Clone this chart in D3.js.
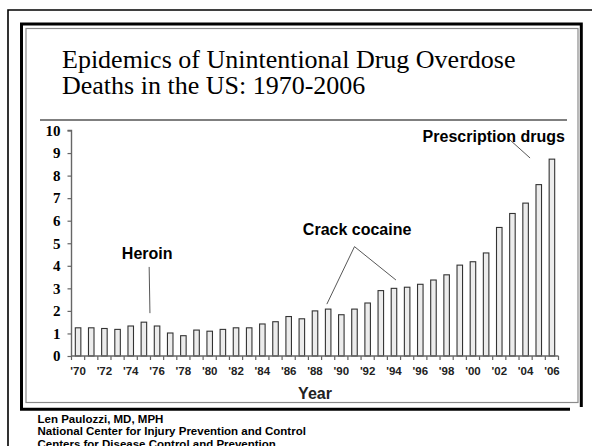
<!DOCTYPE html>
<html>
<head>
<meta charset="utf-8">
<script src="https://cdn.jsdelivr.net/npm/d3@7/dist/d3.min.js"></script>
<style>
  html, body { margin: 0; padding: 0; background: #fff; }
  svg { display: block; }
</style>
</head>
<body>
<svg id="chart" width="592" height="446"></svg>
<script>
// Unintentional drug overdose death rate per 100,000, US, 1970-2006
const years = d3.range(1970, 2007);
const rates = [
  1.25, 1.25, 1.22, 1.18, 1.33, 1.50, 1.33, 1.02, 0.90, 1.15,
  1.10, 1.18, 1.25, 1.25, 1.42, 1.52, 1.75, 1.65, 2.00, 2.08,
  1.83, 2.08, 2.35, 2.90, 3.00, 3.05, 3.18, 3.37, 3.60, 4.03,
  4.18, 4.57, 5.70, 6.32, 6.78, 7.60, 8.73
];
const yTicks = d3.range(0, 11);
const xTickYears = years.filter(y => y % 2 === 0);
const yearLabel = y => "'" + String(y % 100).padStart(2, "0");

// Callouts, placed in data space (fractional year, rate)
const callouts = [
  { text: "Heroin", at: [1975.25, 4.29],
    lines: [[[1975.46, 1.90], [1975.40, 3.95]]] },
  { text: "Crack cocaine", at: [1991.2, 5.37],
    lines: [[[1991.0, 4.85], [1988.9, 2.30]], [[1991.0, 4.85], [1994.15, 3.37]]] },
  { text: "Prescription drugs", at: [2001.58, 9.50],
    lines: [[[2002.74, 9.62], [2004.34, 8.78]]] }
];

const titleLines = ["Epidemics of Unintentional Drug Overdose", "Deaths in the US: 1970-2006"];
const footerLines = [
  "Len Paulozzi, MD, MPH",
  "National Center for Injury Prevention and Control",
  "Centers for Disease Control and Prevention"
];

const svg = d3.select("#chart");

// ---- slide frame ----
const frame = svg.append("g").attr("fill", "none");
frame.append("path").attr("d", "M8,446 V10 H592").attr("stroke", "#000").attr("stroke-width", 1.6);
frame.append("path").attr("d", "M21.5,409 V24 H581.3 V407").attr("stroke", "#000").attr("stroke-width", 3);
frame.append("path").attr("d", "M20,409.3 H570").attr("stroke", "#000").attr("stroke-width", 3);
frame.append("rect").attr("x", 26).attr("y", 28.5).attr("width", 552).attr("height", 374)
  .attr("stroke", "#8a8a8a").attr("stroke-width", 1.2);
frame.append("path").attr("d", "M40,120 H567").attr("stroke", "#555").attr("stroke-width", 1.4);

// ---- title ----
svg.append("g")
  .attr("font-family", "'Liberation Serif', 'Times New Roman', serif")
  .attr("font-size", 26)
  .attr("fill", "#000")
  .selectAll("text").data(titleLines).join("text")
  .attr("x", 62).attr("y", (d, i) => 68 + i * 26)
  .text(d => d);

// ---- scales ----
const x = d3.scaleBand().domain(years).range([71.5, 558.5]).padding(0);
const bw = x.bandwidth();
const y = d3.scaleLinear().domain([0, 10]).range([356, 130.5]);
const xf = v => x.range()[0] + (v - years[0] + 0.5) * bw;

// ---- bars ----
svg.append("g")
  .selectAll("rect").data(years).join("rect")
  .attr("x", d => x(d) + bw * 0.29)
  .attr("width", bw * 0.42)
  .attr("y", (d, i) => y(rates[i]))
  .attr("height", (d, i) => y(0) - y(rates[i]))
  .attr("fill", "#ececec")
  .attr("stroke", "#333")
  .attr("stroke-width", 1.1);

// ---- y axis ----
const yAxis = svg.append("g")
  .attr("transform", `translate(${x.range()[0]},0)`)
  .call(d3.axisLeft(y).tickValues(yTicks).tickSize(4).tickPadding(7).tickFormat(d3.format("d")));
yAxis.select(".domain").attr("stroke", "#666").attr("stroke-width", 1.4).attr("d", `M-4,${y(10)}H0V${y(0)}`);
yAxis.selectAll(".tick line").attr("stroke", "#666").attr("stroke-width", 1.2);
yAxis.selectAll(".tick text")
  .attr("font-family", "'Liberation Serif', 'Times New Roman', serif")
  .attr("font-weight", "bold").attr("font-size", 15).attr("fill", "#000");

// ---- x axis ----
const xAxis = svg.append("g").attr("transform", `translate(0,${y(0)})`);
xAxis.append("line")
  .attr("x1", x.range()[0]).attr("x2", x.range()[1])
  .attr("stroke", "#666").attr("stroke-width", 1.4);
xAxis.selectAll("line.tk").data(years.concat([years[years.length - 1] + 1])).join("line")
  .attr("class", "tk")
  .attr("x1", d => xf(d - 0.5)).attr("x2", d => xf(d - 0.5))
  .attr("y1", 0).attr("y2", 4)
  .attr("stroke", "#666").attr("stroke-width", 1.2);
xAxis.selectAll("text").data(xTickYears).join("text")
  .attr("x", d => x(d) + bw / 2)
  .attr("y", 19)
  .attr("text-anchor", "middle")
  .attr("font-family", "'Liberation Sans', Arial, sans-serif")
  .attr("font-weight", "bold").attr("font-size", 11.5).attr("fill", "#222")
  .text(yearLabel);

svg.append("text")
  .attr("x", (x.range()[0] + x.range()[1]) / 2).attr("y", 399)
  .attr("text-anchor", "middle")
  .attr("font-family", "'Liberation Sans', Arial, sans-serif")
  .attr("font-weight", "bold").attr("font-size", 16).attr("fill", "#222")
  .text("Year");

// ---- callouts ----
const notes = svg.append("g");
callouts.forEach(c => {
  c.lines.forEach(([a, b]) => {
    notes.append("line")
      .attr("x1", xf(a[0])).attr("y1", y(a[1]))
      .attr("x2", xf(b[0])).attr("y2", y(b[1]))
      .attr("stroke", "#444").attr("stroke-width", 0.9);
  });
  notes.append("text")
    .attr("x", xf(c.at[0])).attr("y", y(c.at[1]))
    .attr("text-anchor", "middle")
    .attr("font-family", "'Liberation Sans', Arial, sans-serif")
    .attr("font-weight", "bold").attr("font-size", 16).attr("fill", "#000")
    .text(c.text);
});

// ---- footer ----
svg.append("g")
  .attr("font-family", "'Liberation Sans', Arial, sans-serif")
  .attr("font-weight", "bold").attr("font-size", 11.5).attr("fill", "#000")
  .selectAll("text").data(footerLines).join("text")
  .attr("x", 37.5).attr("y", (d, i) => 422.5 + i * 12.7)
  .text(d => d);
</script>
</body>
</html>
